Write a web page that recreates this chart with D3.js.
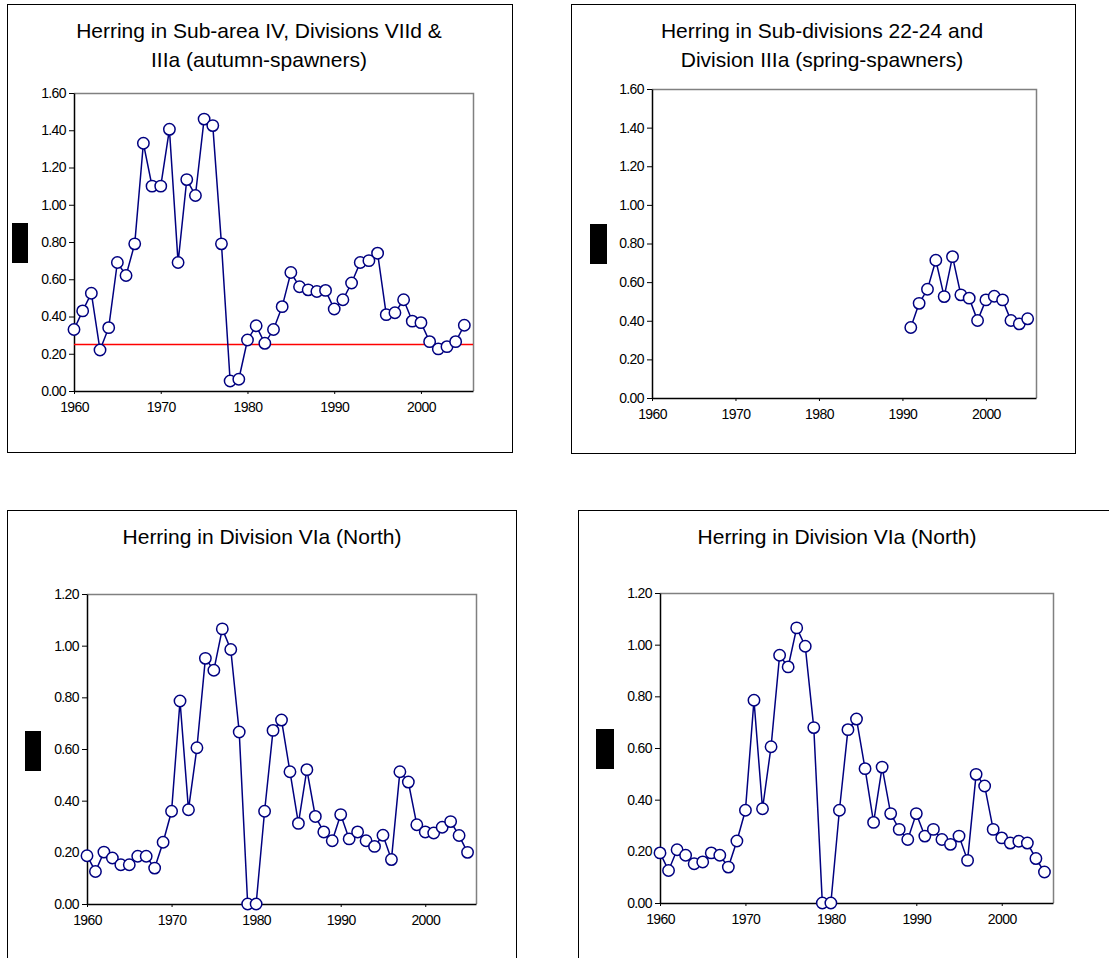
<!DOCTYPE html>
<html>
<head>
<meta charset="utf-8">
<script src="https://cdn.jsdelivr.net/npm/d3@7"></script>
<style>
  body { margin: 0; background: #fff; }
  svg { display: block; font-family: "Liberation Sans", Arial, sans-serif; }
</style>
</head>
<body>
<div id="chart"></div>
<script>
// Years and values
var yearsNorthSea = [1960, 1961, 1962, 1963, 1964, 1965, 1966, 1967, 1968, 1969,
    1970, 1971, 1972, 1973, 1974, 1975, 1976, 1977, 1978, 1979,
    1980, 1981, 1982, 1983, 1984, 1985, 1986, 1987, 1988, 1989,
    1990, 1991, 1992, 1993, 1994, 1995, 1996, 1997, 1998, 1999,
    2000, 2001, 2002, 2003, 2004, 2005];
var fNorthSea = [0.33, 0.43, 0.525, 0.22, 0.34, 0.69, 0.62, 0.79, 1.33, 1.10,
    1.10, 1.405, 0.69, 1.135, 1.05, 1.46, 1.425, 0.79, 0.054, 0.063,
    0.274, 0.35, 0.256, 0.33, 0.453, 0.636, 0.56, 0.543, 0.534, 0.54,
    0.44, 0.49, 0.58, 0.69, 0.70, 0.74, 0.41, 0.42, 0.49, 0.375,
    0.367, 0.265, 0.226, 0.238, 0.265, 0.353];
var refNorthSea = 0.25;

var yearsBaltic = [1991, 1992, 1993, 1994, 1995, 1996, 1997, 1998, 1999, 2000,
    2001, 2002, 2003, 2004, 2005];
var fBaltic = [0.365, 0.49, 0.563, 0.713, 0.525, 0.732, 0.534, 0.517, 0.401, 0.508,
    0.527, 0.508, 0.401, 0.384, 0.41];

var yearsVIa = [1960, 1961, 1962, 1963, 1964, 1965, 1966, 1967, 1968, 1969,
    1970, 1971, 1972, 1973, 1974, 1975, 1976, 1977, 1978, 1979,
    1980, 1981, 1982, 1983, 1984, 1985, 1986, 1987, 1988, 1989,
    1990, 1991, 1992, 1993, 1994, 1995, 1996, 1997, 1998, 1999,
    2000, 2001, 2002, 2003, 2004, 2005];
var fVIaLeft = [0.187, 0.126, 0.201, 0.178, 0.152, 0.152, 0.185, 0.185, 0.139, 0.239,
    0.359, 0.786, 0.365, 0.605, 0.951, 0.905, 1.065, 0.985, 0.666, 0,
    0, 0.359, 0.672, 0.712, 0.512, 0.312, 0.52, 0.339, 0.279, 0.245,
    0.346, 0.252, 0.279, 0.245, 0.223, 0.266, 0.172, 0.512, 0.472, 0.307,
    0.279, 0.275, 0.297, 0.319, 0.265, 0.2];
var fVIaRight = [0.194, 0.126, 0.206, 0.185, 0.152, 0.159, 0.194, 0.185, 0.139, 0.24,
    0.359, 0.785, 0.365, 0.605, 0.959, 0.914, 1.065, 0.994, 0.679, 0,
    0, 0.359, 0.671, 0.712, 0.52, 0.312, 0.526, 0.346, 0.285, 0.246,
    0.346, 0.259, 0.285, 0.246, 0.227, 0.259, 0.165, 0.498, 0.453, 0.285,
    0.252, 0.232, 0.239, 0.232, 0.172, 0.12];

var xTicks = [1960, 1970, 1980, 1990, 2000];
var yTicksHigh = [0, 0.2, 0.4, 0.6, 0.8, 1.0, 1.2, 1.4, 1.6];
var yTicksLow = [0, 0.2, 0.4, 0.6, 0.8, 1.0, 1.2];

var titleNorthSea = ["Herring in Sub-area IV, Divisions VIId &", "IIIa (autumn-spawners)"];
var titleBaltic = ["Herring in Sub-divisions 22-24 and", "Division IIIa (spring-spawners)"];
var titleVIa = ["Herring in Division VIa (North)"];

var W = 1109, H = 958;
var navy = "#000080";

var svg = d3.select("#chart").append("svg")
    .attr("width", W)
    .attr("height", H);

// Layout of each panel (frame, plot area, title, black label box)
var panels = [
    { frame: [7, 4, 505, 448], plot: [74, 93, 473, 391], title: titleNorthSea, tx: 259, ty: 38,
      block: [12, 223, 16, 40], years: yearsNorthSea, values: fNorthSea, yMax: 1.6, yTicks: yTicksHigh, ref: refNorthSea },
    { frame: [571, 4, 504, 449], plot: [652, 89, 1036, 398], title: titleBaltic, tx: 822, ty: 38,
      block: [590, 224, 17, 40], years: yearsBaltic, values: fBaltic, yMax: 1.6, yTicks: yTicksHigh },
    { frame: [7, 510, 509, 470], plot: [87, 594, 476, 904], title: titleVIa, tx: 262, ty: 544,
      block: [25, 731, 16, 40], years: yearsVIa, values: fVIaLeft, yMax: 1.2, yTicks: yTicksLow },
    { frame: [578, 510, 560, 470], plot: [660, 593, 1053, 903], title: titleVIa, tx: 837, ty: 544,
      block: [596, 729, 18, 40], years: yearsVIa, values: fVIaRight, yMax: 1.2, yTicks: yTicksLow }
];

panels.forEach(drawPanel);

function drawPanel(p) {
    var g = svg.append("g");

    // outer frame
    g.append("rect")
        .attr("x", p.frame[0] + 0.5)
        .attr("y", p.frame[1] + 0.5)
        .attr("width", p.frame[2])
        .attr("height", p.frame[3])
        .attr("fill", "none")
        .attr("stroke", "#000")
        .attr("stroke-width", 1);

    // title
    var t = g.append("text")
        .attr("x", p.tx)
        .attr("y", p.ty)
        .attr("text-anchor", "middle")
        .style("font-size", "21px")
        .attr("fill", "#000");
    p.title.forEach(function(line, i) {
        t.append("tspan").attr("x", p.tx).attr("dy", i === 0 ? 0 : 29).text(line);
    });

    // black box where the axis label was
    g.append("rect")
        .attr("x", p.block[0])
        .attr("y", p.block[1])
        .attr("width", p.block[2])
        .attr("height", p.block[3])
        .attr("fill", "#000");

    var x = d3.scaleLinear().domain([1960, 2006]).range([p.plot[0], p.plot[2]]);
    var y = d3.scaleLinear().domain([0, p.yMax]).range([p.plot[3], p.plot[1]]);

    // plot area border (top + right in grey)
    g.append("path")
        .attr("d", `M${p.plot[0]},${p.plot[1] + 0.5}H${p.plot[2] + 0.5}V${p.plot[3]}`)
        .attr("fill", "none")
        .attr("stroke", "#808080")
        .attr("stroke-width", 1.5);

    // axes
    var yAxis = d3.axisLeft(y)
        .tickValues(p.yTicks)
        .tickFormat(d3.format(".2f"))
        .tickSizeInner(5)
        .tickSizeOuter(0)
        .tickPadding(3);
    var xAxis = d3.axisBottom(x)
        .tickValues(xTicks)
        .tickFormat(d3.format("d"))
        .tickSizeInner(3)
        .tickSizeOuter(0)
        .tickPadding(8);

    var ya = g.append("g")
        .attr("transform", `translate(${p.plot[0]},0)`)
        .call(yAxis);
    var xa = g.append("g")
        .attr("transform", `translate(0,${p.plot[3]})`)
        .call(xAxis);

    [ya, xa].forEach(function(a) {
        a.select(".domain").attr("stroke", "#000").attr("stroke-width", 1.5);
        a.selectAll(".tick line").attr("stroke", "#000");
        a.selectAll(".tick text")
            .attr("fill", "#000")
            .style("font-size", "14px")
            .style("font-family", "'Liberation Sans', Arial, sans-serif")
            .style("letter-spacing", "-0.6px");
    });

    // reference line
    if (p.ref !== undefined) {
        g.append("line")
            .attr("x1", p.plot[0])
            .attr("x2", p.plot[2])
            .attr("y1", y(p.ref))
            .attr("y2", y(p.ref))
            .attr("stroke", "#ff0000")
            .attr("stroke-width", 1.5);
    }

    var pts = p.years.map(function(yr, i) { return { year: yr, value: p.values[i] }; });

    var line = d3.line()
        .x(function(d) { return x(d.year); })
        .y(function(d) { return y(d.value); });

    g.append("path")
        .datum(pts)
        .attr("d", line)
        .attr("fill", "none")
        .attr("stroke", navy)
        .attr("stroke-width", 1.5);

    g.selectAll(".pt")
        .data(pts)
        .enter().append("circle")
        .attr("class", "pt")
        .attr("cx", function(d) { return x(d.year); })
        .attr("cy", function(d) { return y(d.value); })
        .attr("r", 5.7)
        .attr("fill", "#fff")
        .attr("stroke", navy)
        .attr("stroke-width", 1.5);
}
</script>
</body>
</html>
